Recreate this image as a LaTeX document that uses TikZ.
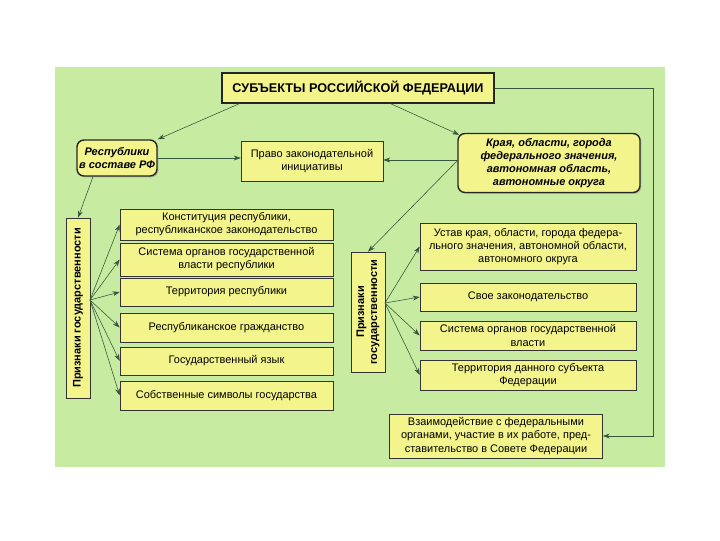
\documentclass[tikz,border=0pt]{standalone}
\usepackage{fontspec}
\setmainfont{Liberation Sans}
\usepackage{xcolor}
\definecolor{fieldgreen}{HTML}{C8EBA2}
\definecolor{boxyellow}{HTML}{F4F48C}
\definecolor{linegreen}{HTML}{35573A}
\usetikzlibrary{arrows.meta,shadows}

\begin{document}
\begin{tikzpicture}[x=0.025cm, y=-0.025cm,
      box/.style={draw=black!80, fill=boxyellow, align=center, inner sep=1pt, minimum width=5.325cm,
        font=\fontsize{7.8}{9.3}\selectfont},
      kind/.style={draw=black!85, line width=1pt, rounded corners=5pt, fill=boxyellow, align=center, inner sep=1pt,
        font=\fontsize{7.8}{9.3}\selectfont\bfseries\itshape, drop shadow={shadow xshift=1pt, shadow yshift=-1pt, opacity=0.4}},
      sign/.style={draw=black!80, fill=boxyellow, rotate=90, align=center, inner sep=1pt,
        font=\fontsize{7.8}{9.3}\selectfont\bfseries},
      arr/.style={-{Stealth[length=5pt,width=3.5pt]}, draw=linegreen, thin}
    ]
    \useasboundingbox (0,0) rectangle (720,540);
    \fill[fieldgreen] (55,67) rectangle (665,467);
    % top level
    \node[draw=black!85, line width=1pt, fill=boxyellow, minimum width=6.8cm, minimum height=0.75cm, inner sep=1pt,
      font=\fontsize{9}{10}\selectfont\bfseries, drop shadow={shadow xshift=1pt, shadow yshift=-1pt, opacity=0.4}]
      (title) at (358,88) {СУБЪЕКТЫ РОССИЙСКОЙ ФЕДЕРАЦИИ};
    \node[kind, minimum width=2cm, minimum height=0.9cm] (rep) at (117,158) {Республики\\в составе РФ};
    \node[box, minimum width=3.55cm, minimum height=1cm] (pravo) at (312,161) {Право законодательной\\инициативы};
    \node[kind, minimum width=4.55cm, minimum height=1.475cm] (kraya) at (549,163)
      {Края, области, города\\федерального значения,\\автономная область,\\автономные округа};
    \node[box, minimum height=1.1cm] (vzaim) at (496,436)
      {Взаимодействие с федеральными\\органами, участие в их работе, пред-\\ставительство в Совете Федерации};
    % left column
    \node[sign, minimum width=4.5cm, minimum height=0.6cm] (lsign) at (78,308) {Признаки государственности};
    \node[box, minimum height=0.775cm] (l1) at (226.5,224.5) {Конституция республики,\\республиканское законодательство};
    \node[box, minimum height=0.825cm] (l2) at (226.5,259.5) {Система органов государственной\\власти республики};
    \node[box, minimum height=0.7cm] (l3) at (226.5,292) {Территория республики};
    \node[box, minimum height=0.725cm] (l4) at (226.5,327.5) {Республиканское гражданство};
    \node[box, minimum height=0.7cm] (l5) at (226.5,361) {Государственный язык};
    \node[box, minimum height=0.725cm] (l6) at (226.5,395.5) {Собственные символы государства};
    % right column
    \node[sign, minimum width=3cm, minimum height=0.85cm] (rsign) at (368,312) {Признаки\\государственности};
    \node[box, minimum width=5.4cm, minimum height=1.175cm] (r1) at (528,246.5)
      {Устав края, области, города федера-\\льного значения, автономной области,\\автономного округа};
    \node[box, minimum width=5.4cm, minimum height=0.7cm] (r2) at (528,297) {Свое законодательство};
    \node[box, minimum width=5.4cm, minimum height=0.725cm] (r3) at (528,335.5) {Система органов государственной\\власти};
    \node[box, minimum width=5.4cm, minimum height=0.75cm] (r4) at (528,375) {Территория данного субъекта\\Федерации};
    \coordinate (lfan) at (90,300);
    \coordinate (rfan) at (385,303);
    \coordinate (turn) at (653,88);
    \coordinate (kout) at (458,160);
    % connectors
    \draw[arr] ([xshift=0.45cm]title.south west) -- (rep.north east);
    \draw[arr] ([xshift=-2.6cm]title.south east) -- ([xshift=0.05cm,yshift=-0.05cm]kraya.north west);
    \draw[arr] (rep.east) -- (rep.east -| pravo.west);
    \draw[arr] (kout) -- (kout -| pravo.east);
    \draw[arr] (kout) -- (rsign.east);
    \draw[arr] ([xshift=-0.6cm]rep.south) -- (lsign.east);
    \draw[arr] (title.east) -- (turn) |- (vzaim.east);
    \foreach \b in {l1,l2,l3,l4,l5,l6}
      \draw[arr] (lfan) -- (\b.west);
    \foreach \b in {r1,r2,r3,r4}
      \draw[arr] (rfan) -- (\b.west);
  \end{tikzpicture}
\end{document}
